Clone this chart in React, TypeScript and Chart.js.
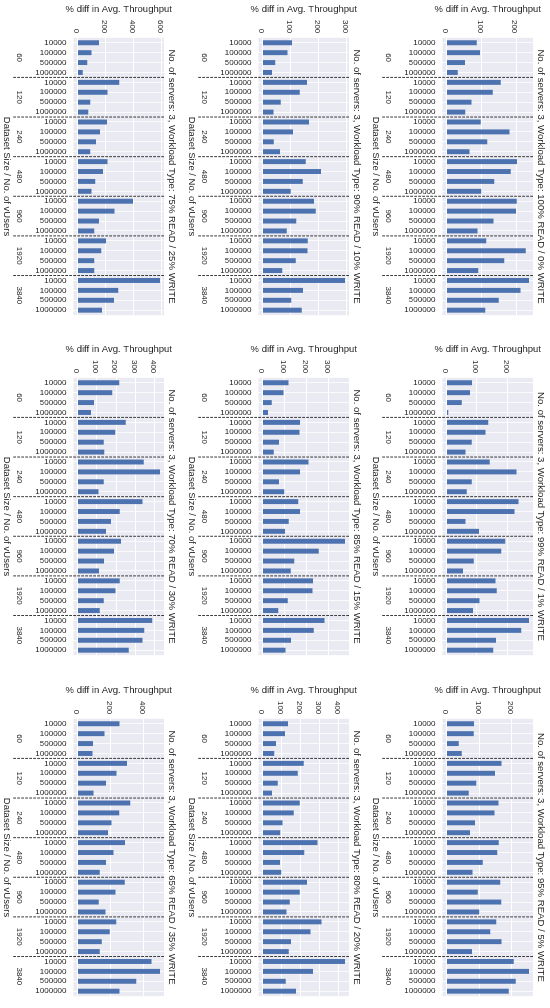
import React, { useEffect, useRef } from "react";
import { Chart, registerables } from "chart.js";

Chart.register(...registerables);

// ---------- data ----------
const datasetSizes = ["10000", "100000", "500000", "1000000"];
const vUsers = ["60", "120", "240", "480", "960", "1920", "3840"];
const categoryLabels = vUsers.flatMap(() => datasetSizes);

const workloads = [
  "100% READ / 0% WRITE",
  "99% READ / 1% WRITE",
  "95% READ / 5% WRITE",
  "90% READ / 10% WRITE",
  "85% READ / 15% WRITE",
  "80% READ / 20% WRITE",
  "75% READ / 25% WRITE",
  "70% READ / 30% WRITE",
  "65% READ / 35% WRITE",
];

const read100 = [87, 96, 53, 32, 156, 133, 72, 54, 98, 181, 117, 66, 203, 185, 137, 100, 202, 200, 135, 89, 114, 228, 166, 91, 237, 213, 150, 111];
const read99 = [84, 77, 50, 5, 137, 128, 83, 62, 142, 230, 83, 66, 237, 224, 62, 107, 193, 180, 89, 54, 161, 165, 108, 87, 271, 246, 163, 154];
const read95 = [84, 83, 37, 46, 168, 148, 91, 68, 159, 147, 87, 72, 160, 155, 111, 79, 164, 95, 167, 100, 152, 134, 168, 78, 206, 252, 212, 190];
const read90 = [105, 89, 45, 33, 158, 132, 65, 39, 165, 108, 40, 62, 154, 208, 143, 100, 183, 189, 120, 86, 161, 160, 118, 70, 293, 144, 102, 139];
const read85 = [117, 95, 41, 24, 170, 167, 74, 51, 208, 170, 74, 98, 161, 170, 119, 101, 373, 254, 143, 128, 229, 226, 114, 71, 281, 232, 129, 104];
const read80 = [133, 118, 70, 61, 216, 184, 79, 49, 195, 163, 104, 93, 288, 219, 91, 98, 233, 195, 142, 125, 309, 251, 149, 137, 432, 265, 121, 175];
const read75 = [152, 100, 69, 36, 298, 214, 90, 76, 210, 160, 131, 90, 214, 181, 126, 100, 395, 264, 152, 119, 202, 169, 119, 119, 588, 290, 260, 174];
const read70 = [217, 180, 85, 70, 250, 196, 136, 139, 344, 428, 136, 109, 338, 219, 174, 148, 226, 189, 137, 111, 219, 197, 136, 115, 388, 347, 337, 266];
const read65 = [255, 163, 94, 90, 300, 237, 173, 96, 320, 253, 206, 184, 288, 218, 173, 135, 286, 231, 129, 169, 235, 196, 147, 135, 449, 500, 357, 255];

const ticks100 = [0, 100, 200];
const ticks99 = [0, 100, 200];
const ticks95 = [0, 100, 200];
const ticks90 = [0, 100, 200, 300];
const ticks85 = [0, 100, 200, 300];
const ticks80 = [0, 100, 200, 300, 400];
const ticks75 = [0, 200, 400, 600];
const ticks70 = [0, 100, 200, 300, 400];
const ticks65 = [0, 200, 400];

const seriesList = [read100, read99, read95, read90, read85, read80, read75, read70, read65];
const tickList = [ticks100, ticks99, ticks95, ticks90, ticks85, ticks80, ticks75, ticks70, ticks65];

const valueAxisTitle = "% diff in Avg. Throughput";
const categoryAxisTitle = "Dataset Size / No. of vUsers";
const titlePrefix = "No. of servers: 3, Workload Type: ";

// ---------- style ----------
const FONT = "'Liberation Sans', Arial, Helvetica, sans-serif";
const TEXT = "#262626";
const BAR = "#4c72b0";
const PLOT_BG = "#eaeaf2";
const SEP = "#3a3a3a";

const CANVAS_W = 327;
const CANVAS_H = 181;
const colLefts = [0, 340, 681];
const rowTops = [0, 184, 369];

Chart.defaults.font.family = FONT;
Chart.defaults.color = TEXT;

const bgPlugin = {
  id: "plotBg",
  beforeDraw(chart: any) {
    const { left, top, width, height } = chart.chartArea;
    const ctx = chart.ctx;
    ctx.save();
    ctx.fillStyle = PLOT_BG;
    ctx.fillRect(left, top, width, height);
    ctx.restore();
  },
};

const sepPlugin = {
  id: "groupSeparators",
  afterDatasetsDraw(chart: any) {
    const xs = chart.scales.x;
    const { top, bottom } = chart.chartArea;
    const ctx = chart.ctx;
    ctx.save();
    ctx.strokeStyle = SEP;
    ctx.lineWidth = 1;
    ctx.setLineDash([2.8, 1.2]);
    for (let g = 1; g < vUsers.length; g++) {
      const i = g * datasetSizes.length;
      const px = (xs.getPixelForValue(i - 1) + xs.getPixelForValue(i)) / 2;
      ctx.beginPath();
      ctx.moveTo(px, top);
      ctx.lineTo(px, bottom + 61);
      ctx.stroke();
    }
    ctx.restore();
  },
};

function Panel({ idx }: { idx: number }) {
  const ref = useRef<HTMLCanvasElement>(null);
  useEffect(() => {
    const values = seriesList[idx];
    const tickVals = tickList[idx];
    const maxV = Math.max(...values);
    const minV = Math.min(0, ...values);
    const span = maxV - minV;
    const chart = new Chart(ref.current as HTMLCanvasElement, {
      type: "bar",
      data: {
        labels: categoryLabels,
        datasets: [
          {
            data: values,
            backgroundColor: BAR,
            barPercentage: 0.5,
            categoryPercentage: 1,
            xAxisID: "x",
            yAxisID: "y",
          },
        ],
      },
      options: {
        animation: false,
        responsive: false,
        maintainAspectRatio: false,
        layout: { padding: { left: 0, right: 5.8, top: 0, bottom: 0 } },
        plugins: {
          legend: { display: false },
          tooltip: { enabled: false },
          title: {
            display: true,
            text: titlePrefix + workloads[idx],
            fullSize: false,
            color: TEXT,
            font: { size: 9.6, weight: "normal", family: FONT, lineHeight: 1.2 },
            padding: { top: 3.2, bottom: 2.28 },
          },
        },
        scales: {
          x: {
            type: "category",
            position: "bottom",
            weight: 0,
            offset: true,
            grid: { offset: false, color: "#ffffff", lineWidth: 0.8, drawTicks: false },
            border: { display: false },
            ticks: {
              autoSkip: false,
              minRotation: 90,
              maxRotation: 90,
              padding: 7,
              color: TEXT,
              font: { size: 8, family: FONT },
            },
            afterFit: (s: any) => {
              s.height = 38;
            },
          },
          x2: {
            type: "category",
            axis: "x",
            position: "bottom",
            weight: 1,
            labels: vUsers,
            offset: true,
            grid: { display: false, drawTicks: false },
            border: { display: false },
            ticks: {
              autoSkip: false,
              minRotation: 0,
              maxRotation: 0,
              padding: 11,
              color: TEXT,
              font: { size: 8, family: FONT },
            },
            title: {
              display: true,
              text: categoryAxisTitle,
              color: TEXT,
              font: { size: 9.5, family: FONT, lineHeight: 1.2 },
              padding: { top: 0, bottom: 1.3 },
            },
            afterFit: (s: any) => {
              s.height = 35.5;
            },
          },
          y: {
            type: "linear",
            position: "left",
            min: minV - 0.05 * span,
            max: maxV + 0.05 * span,
            grid: { color: "#ffffff", lineWidth: 1, drawTicks: false },
            border: { display: false },
            ticks: {
              padding: 4.5,
              labelOffset: 1.5,
              color: TEXT,
              font: { size: 8, family: FONT },
            },
            afterBuildTicks: (s: any) => {
              s.ticks = tickVals.map((v) => ({ value: v }));
            },
            title: {
              display: true,
              text: valueAxisTitle,
              color: TEXT,
              font: { size: 9.5, family: FONT, lineHeight: 1.2 },
              padding: { top: 4.1, bottom: 0 },
            },
            afterFit: (s: any) => {
              s.width = 37.8;
            },
          },
        },
      } as any,
      plugins: [bgPlugin, sepPlugin],
    });
    return () => chart.destroy();
  }, [idx]);

  const r = Math.floor(idx / 3);
  const c = idx % 3;
  return (
    <canvas
      ref={ref}
      width={CANVAS_W}
      height={CANVAS_H}
      style={{
        position: "absolute",
        left: colLefts[c],
        top: rowTops[r],
        width: CANVAS_W,
        height: CANVAS_H,
      }}
    />
  );
}

export default function App() {
  return (
    <div
      style={{
        position: "absolute",
        left: 0,
        top: 0,
        width: 1008,
        height: 550,
        background: "#ffffff",
        transformOrigin: "0 0",
        transform: "translate(550px, 0px) rotate(90deg)",
      }}
    >
      {seriesList.map((_, i) => (
        <Panel key={i} idx={i} />
      ))}
    </div>
  );
}
